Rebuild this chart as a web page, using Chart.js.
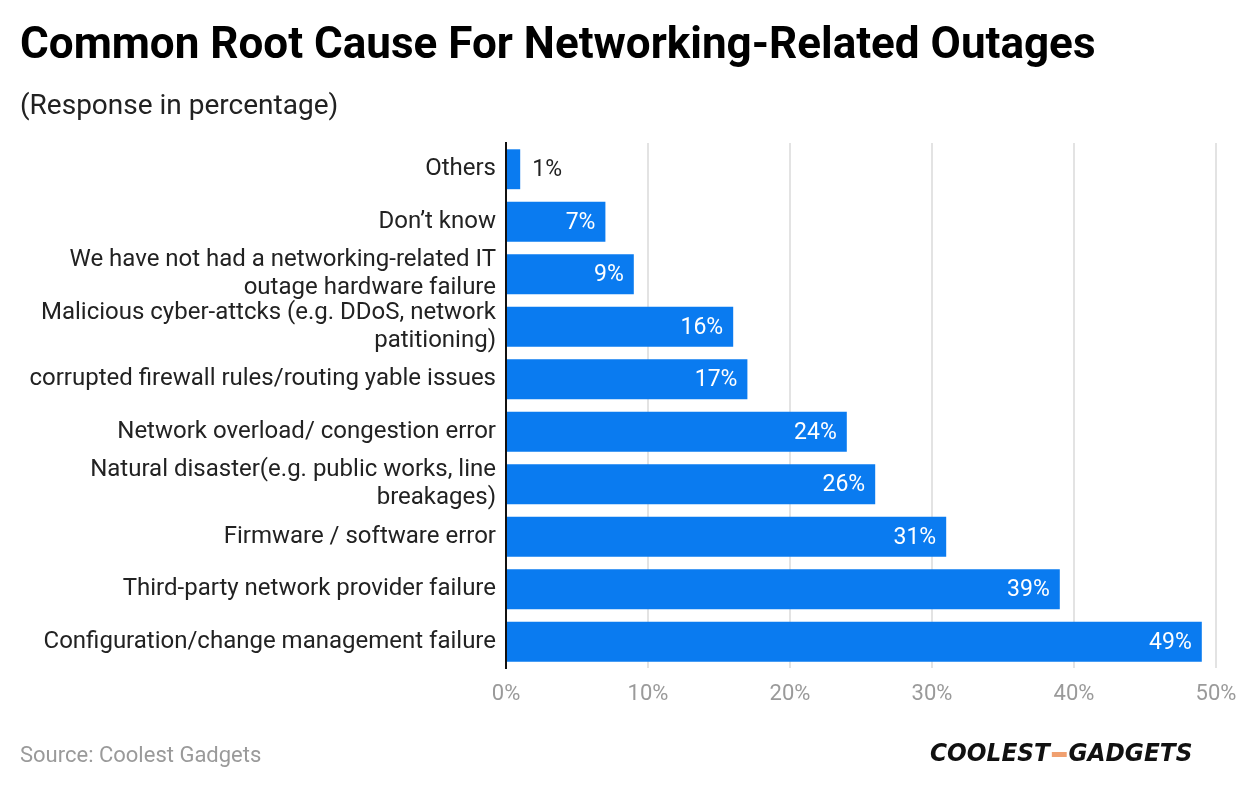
<!DOCTYPE html>
<html>
<head>
<meta charset="utf-8">
<script src="https://cdn.jsdelivr.net/npm/chart.js@4"></script>
<style>
  html, body { margin: 0; padding: 0; background: #fff; }
  #wrap { position: relative; width: 1240px; height: 792px; font-family: Roboto, sans-serif; }
  #chart { position: absolute; left: 0; top: 0; }
  .title { position: absolute; left: 20px; top: 17px; font-size: 44px; font-weight: 700; color: #000; white-space: nowrap; }
  .sub { position: absolute; left: 20px; top: 88px; font-size: 28px; color: #222; }
  .src { position: absolute; left: 20px; top: 742px; font-size: 22px; color: #9a9a9a; }
  .logo { position: absolute; left: 930px; top: 738px; font-size: 25px; font-weight: 900; font-style: italic; color: #111; white-space: nowrap; font-family: "DejaVu Sans", sans-serif; transform: scaleX(0.93); transform-origin: left; }
  .logo .dash { display: inline-block; width: 16px; height: 5px; margin: 0 2px; background: #f0a070; color: transparent; overflow: hidden; line-height: 5px; vertical-align: middle; }
</style>
</head>
<body>
<div id="wrap">
  <canvas id="chart" width="1240" height="792"></canvas>
  <div class="title">Common Root Cause For Networking-Related Outages</div>
  <div class="sub">(Response in percentage)</div>
  <div class="src">Source: Coolest Gadgets</div>
  <div class="logo">COOLEST<span class="dash">-</span>GADGETS</div>
</div>
<script>
const causes = [
    "Others",
    "Don\u2019t know",
    ["We have not had a networking-related IT", "outage hardware failure"],
    ["Malicious cyber-attcks (e.g. DDoS, network", "patitioning)"],
    "corrupted firewall rules/routing yable issues",
    "Network overload/ congestion error",
    ["Natural disaster(e.g. public works, line", "breakages)"],
    "Firmware / software error",
    "Third-party network provider failure",
    "Configuration/change management failure",
];
const responses = [1, 7, 9, 16, 17, 24, 26, 31, 39, 49];
const xTicks = [0, 10, 20, 30, 40, 50];
const barCol = "#0a7bf0";

// value labels at the end of each bar
const valueLabels = {
    id: "valueLabels",
    afterDatasetsDraw(chart) {
        const ctx = chart.ctx;
        const meta = chart.getDatasetMeta(0);
        ctx.save();
        ctx.font = "23px Roboto, sans-serif";
        ctx.textBaseline = "middle";
        meta.data.forEach((bar, i) => {
            const txt = responses[i] + "%";
            const w = ctx.measureText(txt).width;
            if (bar.x - bar.base > w + 20) {
                ctx.fillStyle = "#fff";
                ctx.textAlign = "right";
                ctx.fillText(txt, bar.x - 10, bar.y + 1);
            } else {
                ctx.fillStyle = "#222";
                ctx.textAlign = "left";
                ctx.fillText(txt, bar.x + 12, bar.y + 1);
            }
        });
        ctx.restore();
    },
};

new Chart(document.getElementById("chart"), {
    type: "bar",
    data: {
        labels: causes,
        datasets: [
            {
                data: responses,
                backgroundColor: barCol,
                barPercentage: 0.76,
                categoryPercentage: 1.0,
            },
        ],
    },
    plugins: [valueLabels],
    options: {
        indexAxis: "y",
        responsive: false,
        animation: false,
        layout: { padding: { left: 20, right: 24, top: 143, bottom: 0 } },
        plugins: {
            legend: { display: false },
            tooltip: { enabled: false },
        },
        scales: {
            x: {
                min: 0,
                max: 50,
                afterBuildTicks: (s) => { s.ticks = xTicks.map((v) => ({ value: v })); },
                afterFit: (s) => { s.height = 124; },
                grid: { color: "#e3e3e3", lineWidth: 2, drawTicks: true, tickLength: 13, tickColor: "rgba(0,0,0,0)" },
                border: { display: false },
                ticks: {
                    padding: 0,
                    color: "#9a9a9a",
                    font: { family: "Roboto", size: 22 },
                    callback: (v) => v + "%",
                },
            },
            y: {
                afterFit: (s) => { s.width = 486; },
                grid: { display: false, drawTicks: false },
                border: { display: true, color: "#111", width: 2 },
                ticks: {
                    autoSkip: false,
                    padding: 10,
                    color: "#222",
                    font: { family: "Roboto", size: 24, lineHeight: 1.17 },
                },
            },
        },
    },
});
</script>
</body>
</html>
